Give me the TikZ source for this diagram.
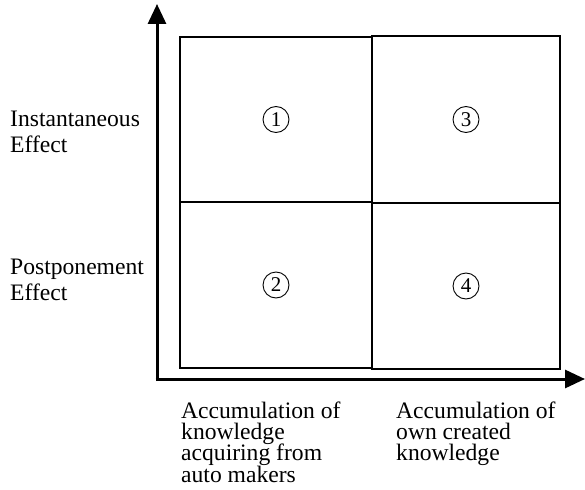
\documentclass[tikz,border=0pt]{standalone}
\usepackage{fontspec}
\setmainfont{Liberation Serif}
\usetikzlibrary{arrows.meta}
\newcommand\mytightlines{\lineskiplimit=-100pt\relax}
\tikzset{
  cell/.style={draw, line width=1.6pt, inner sep=0pt, minimum width=#1},
  axis/.style={line width=3pt, -{Triangle[length=20pt,width=18pt]}},
  num/.style={draw, circle, line width=0.9pt, minimum size=26pt, inner sep=0pt, font=\fontsize{21}{21}\selectfont},
  sidelab/.style={anchor=base west, inner sep=0pt, align=left, font={\fontsize{23.6}{26}\selectfont\mytightlines}},
  botlab/.style={anchor=base west, inner sep=0pt, align=left, font={\fontsize{23.6}{21.3}\selectfont\mytightlines}}
}
\begin{document}
\begin{tikzpicture}[x=1pt,y=-1pt]
\useasboundingbox (0,0) rectangle (585,489);
% quadrant boxes
\node[cell=192pt, minimum height=165pt] (q1) at (276,119.5) {};
\node[cell=192pt, minimum height=166pt] (q2) at (276,285) {};
\node[cell=188pt, minimum height=167pt] (q3) at (466,119.5) {};
\node[cell=188pt, minimum height=166pt] (q4) at (466,286) {};
% circled numbers
\node[num] (n1) at (q1.center) {1};
\node[num] (n2) at (q2.center) {2};
\node[num] (n3) at (q3.center) {3};
\node[num] (n4) at (q4.center) {4};
% axes
\coordinate (Ob) at (157,381);
\coordinate (Ol) at (155.5,379);
\coordinate (ytip) at (157,4);
\coordinate (xtip) at (585,379);
\draw[axis] (Ob) -- (ytip);
\draw[axis] (Ol) -- (xtip);
% labels (base anchor = baseline of last line)
\node[sidelab] (inst) at (10,153) {Instantaneous\\Effect};
\node[sidelab] (post) at (10,300) {Postponement\\Effect};
\node[botlab] (acq) at (181,482) {Accumulation of\\knowledge\\acquiring from\\auto makers};
\node[botlab] (own) at (396,460.6) {Accumulation of\\own created\\knowledge};
\end{tikzpicture}
\end{document}
